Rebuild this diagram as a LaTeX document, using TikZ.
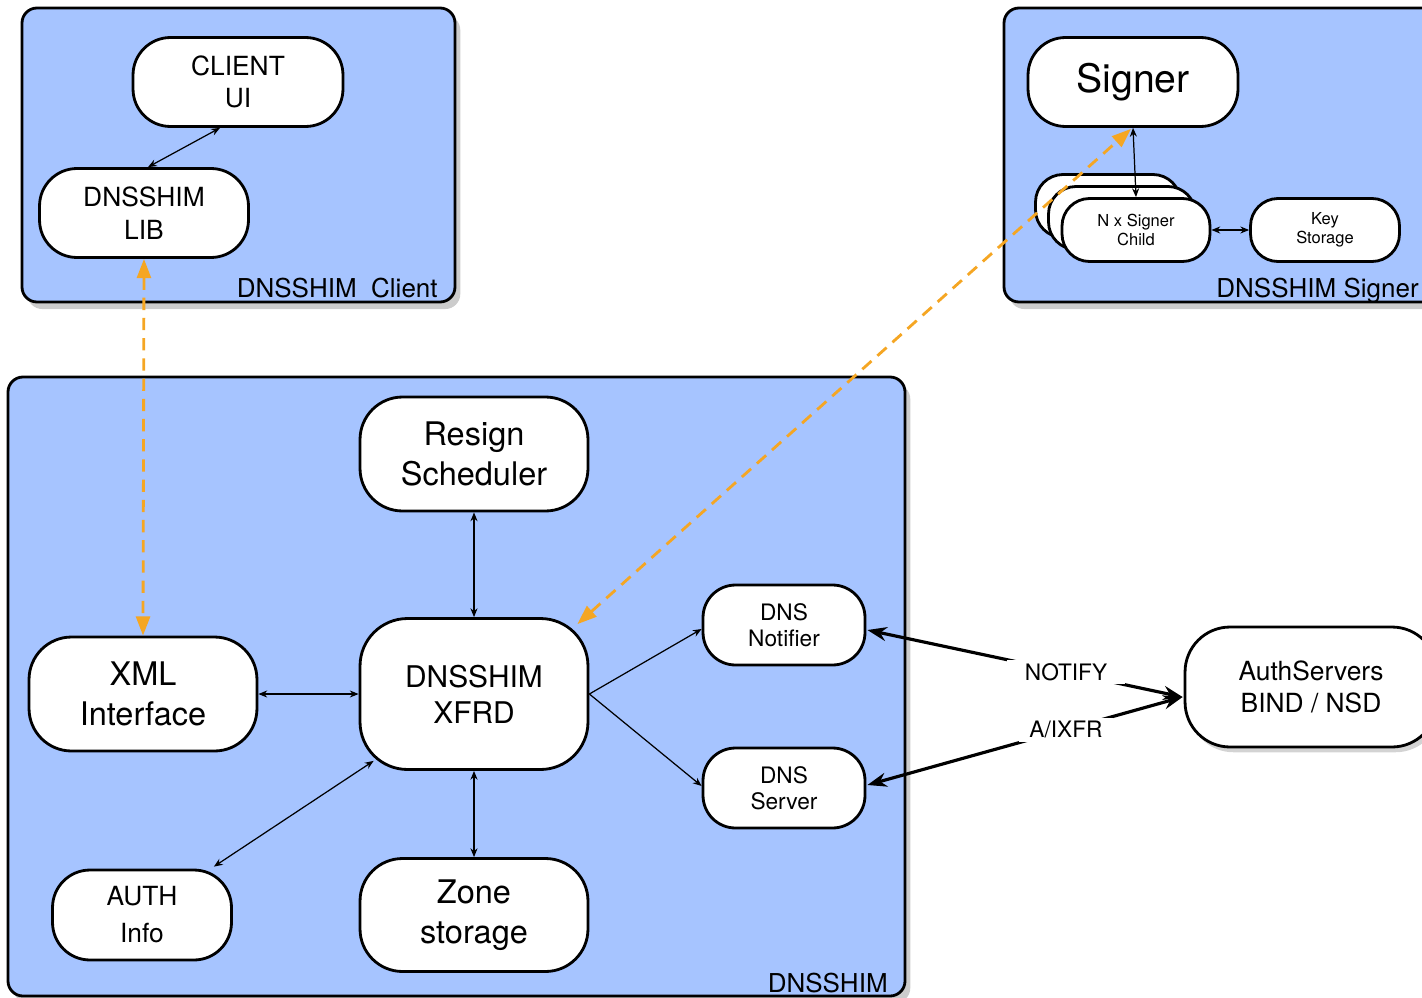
\documentclass[tikz,border=0pt]{standalone}
\usepackage{fontspec}
\setmainfont{TeX Gyre Heros}
\usetikzlibrary{arrows.meta,shadows}
\definecolor{shimblue}{RGB}{166,196,255}
\definecolor{rpcorange}{RGB}{245,166,35}
\begin{document}
\begin{tikzpicture}[
x=0.02cm,y=-0.02cm,
box/.style={fill=shimblue,draw,line width=1.6pt,rounded corners=0.3cm,
  drop shadow={shadow xshift=3pt,shadow yshift=-4pt,opacity=0.4}},
blk/.style={draw,fill=white,line width=1.6pt,rounded corners=0.75cm,
  inner sep=0pt,align=center},
big/.style={font=\fontsize{18.5}{23}\selectfont},
mid/.style={font=\fontsize{15}{18.5}\selectfont},
sml/.style={font=\fontsize{12.9}{14.8}\selectfont},
tiny/.style={font=\fontsize{9.4}{11}\selectfont},
lbl/.style={anchor=base east,inner sep=0pt,font=\fontsize{14.8}{18}\selectfont},
link/.style={{Stealth[length=5pt,width=4pt]}-{Stealth[length=5pt,width=4pt]},line width=0.7pt},
feed/.style={-{Stealth[length=5pt,width=4pt]},line width=0.7pt},
wire/.style={{Stealth[length=11pt,width=8pt]}-{Stealth[length=11pt,width=8pt]},line width=1.8pt},
rpc/.style={draw=rpcorange,line width=1.6pt,dash pattern=on 7pt off 4.5pt,
  {Triangle[length=11pt,width=8pt]}-{Triangle[length=11pt,width=8pt]},rpcorange},
]
\useasboundingbox (0,0) rectangle (1422,997);
% outer boxes
\path[box] (22,8) rectangle (455,302);
\path[box] (1004,8) rectangle (1450,302);
\path[box] (8,377) rectangle (905,996);
\node[lbl] (clientlbl) at (438,297) {DNSSHIM\ \ Client};
\node[lbl] (signerlbl) at (1419,297) {DNSSHIM Signer};
\node[lbl] (shimlbl) at (888,992) {DNSSHIM};
% client
\node[blk,mid,minimum width=4.2cm,minimum height=1.78cm] (ui) at (238,82) {CLIENT\\UI};
\node[blk,mid,minimum width=4.18cm,minimum height=1.78cm] (lib) at (144,213) {DNSSHIM\\LIB};
% signer
\node[blk,font=\fontsize{22.3}{26}\selectfont,minimum width=4.2cm,minimum height=1.78cm] (signer) at (1133,82) {Signer};
\node[blk,rounded corners=0.55cm,minimum width=2.9cm,minimum height=1.26cm] (child3) at (1108,206) {};
\node[blk,rounded corners=0.55cm,minimum width=2.94cm,minimum height=1.26cm] (child2) at (1122,218) {};
\node[blk,tiny,rounded corners=0.55cm,minimum width=2.96cm,minimum height=1.26cm] (child) at (1136,230) {N x Signer\\Child};
\node[blk,tiny,rounded corners=0.55cm,minimum width=2.98cm,minimum height=1.26cm] (key) at (1325,230) {Key\\Storage};
% dnsshim
\node[blk,big,rounded corners=0.85cm,minimum width=4.56cm,minimum height=2.28cm] (resign) at (474,454) {Resign\\Scheduler};
\node[blk,font=\fontsize{17}{20.5}\selectfont,rounded corners=0.95cm,minimum width=4.56cm,minimum height=3.02cm] (xfrd) at (474,694) {DNSSHIM\\XFRD};
\node[blk,big,rounded corners=0.85cm,minimum width=4.56cm,minimum height=2.28cm] (xml) at (143,694) {XML\\Interface};
\node[blk,font=\fontsize{15}{21}\selectfont,minimum width=3.58cm,minimum height=1.8cm] (auth) at (142,915) {AUTH\\Info};
\node[blk,big,rounded corners=0.85cm,minimum width=4.56cm,minimum height=2.26cm] (zone) at (474,915) {Zone\\storage};
\node[blk,sml,rounded corners=0.65cm,minimum width=3.24cm,minimum height=1.6cm] (notifier) at (784,625) {DNS\\Notifier};
\node[blk,sml,rounded corners=0.65cm,minimum width=3.24cm,minimum height=1.6cm] (server) at (784,788) {DNS\\Server};
\node[blk,font=\fontsize{15}{18}\selectfont,rounded corners=0.9cm,minimum width=5.04cm,minimum height=2.4cm,
  drop shadow={shadow xshift=2pt,shadow yshift=-3pt,opacity=0.35}] (authsrv) at (1311,687) {AuthServers\\BIND / NSD};
% links
\draw[link] ([shift={(-18,0)}]ui.south) -- ([shift={(4,0)}]lib.north);
\draw[link] (signer.south) -- (child.north);
\draw[link] (child.east) -- (key.west);
\draw[link] (resign.south) -- (xfrd.north);
\draw[link] (xml.east) -- (xfrd.west);
\draw[link] (xfrd.south) -- (zone.north);
\draw[link] ([shift={(15,-10)}]xfrd.south west) -- ([shift={(-19,-2)}]auth.north east);
\draw[feed] (xfrd.east) -- ([shift={(0,4)}]notifier.west);
\draw[feed] (xfrd.east) -- ([shift={(0,-2)}]server.west);
\draw[wire] ([shift={(1,5)}]notifier.east) -- ([shift={(-1,10)}]authsrv.west)
  node[pos=0.63,fill=white,inner xsep=10pt,inner ysep=2pt,sml] (notify) {NOTIFY};
\draw[wire] ([shift={(1,-3)}]server.east) -- ([shift={(-1,10)}]authsrv.west)
  node[pos=0.63,fill=white,inner xsep=6pt,inner ysep=2pt,sml] (ixfr) {A/IXFR};
% orange calls
\draw[rpc] (lib.south) -- (xml.north);
\draw[rpc] ([shift={(-12,7)}]xfrd.north east) -- ([shift={(-2,1)}]signer.south);
\end{tikzpicture}
\end{document}
